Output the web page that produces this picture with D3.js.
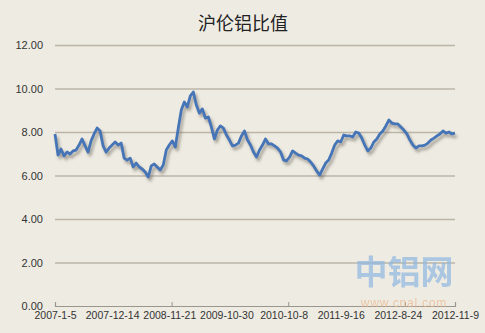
<!DOCTYPE html>
<html>
<head>
<meta charset="utf-8">
<script src="https://cdn.jsdelivr.net/npm/d3@7"></script>
<style>
  body { margin: 0; background: #eeebe2; }
  svg { display: block; }
</style>
</head>
<body>
<div id="chart"></div>
<script>
const title = '沪伦铝比值'
const dateLabels = ['2007-1-5', '2007-12-14', '2008-11-21', '2009-10-30', '2010-10-8', '2011-9-16', '2012-8-24', '2012-11-9']
const yTicks = [0, 2, 4, 6, 8, 10, 12]
// weekly SHFE / LME aluminium ratio
const ratio = [
  7.91, 6.94, 7.22, 6.90, 7.08, 6.99, 7.13, 7.17, 7.40, 7.68,
  7.36, 7.08, 7.59, 7.91, 8.18, 8.05, 7.36, 7.08, 7.26, 7.40,
  7.54, 7.40, 7.49, 6.80, 6.71, 6.80, 6.39, 6.57, 6.39, 6.30,
  6.16, 5.93, 6.44, 6.53, 6.39, 6.25, 6.48, 7.17, 7.40, 7.59,
  7.31, 8.18, 9.01, 9.38, 9.15, 9.66, 9.84, 9.24, 8.87, 9.06,
  8.64, 8.69, 8.23, 7.68, 8.09, 8.28, 8.18, 7.86, 7.63, 7.36,
  7.40, 7.49, 7.82, 8.05, 7.63, 7.40, 7.08, 6.85, 7.17, 7.40,
  7.68, 7.45, 7.45, 7.36, 7.26, 7.08, 6.71, 6.67, 6.85, 7.13,
  7.03, 6.94, 6.90, 6.80, 6.76, 6.62, 6.44, 6.21, 6.02, 6.30,
  6.57, 6.71, 7.03, 7.40, 7.59, 7.54, 7.86, 7.82, 7.82, 7.77,
  8.00, 7.95, 7.72, 7.40, 7.13, 7.26, 7.54, 7.68, 7.91, 8.05,
  8.28, 8.55, 8.41, 8.37, 8.37, 8.23, 8.09, 7.91, 7.63, 7.40,
  7.26, 7.36, 7.36, 7.40, 7.49, 7.63, 7.72, 7.82, 7.91, 8.05,
  7.95, 8.00, 7.91, 7.95
]
// category axis: 343 weeks, tick mark every 100
const nCategories = 343
const tickMarks = [0, 100, 200, 300]

const margin = {top: 45, right: 30, bottom: 27, left: 55},
  width = 485,
  height = 333,
  innerW = width - margin.left - margin.right,
  innerH = height - margin.top - margin.bottom

const svg = d3.select('#chart').append('svg')
  .attr('width', width)
  .attr('height', height)

const defs = svg.append('defs')
const shadow = defs.append('filter')
  .attr('id', 'shadow')
  .attr('x', '-5%').attr('y', '-5%')
  .attr('width', '110%').attr('height', '120%')
shadow.append('feDropShadow')
  .attr('dx', 2).attr('dy', 3)
  .attr('stdDeviation', 1.6)
  .attr('flood-color', '#6e6a60')
  .attr('flood-opacity', 0.6)

svg.append('rect')
  .attr('width', width).attr('height', height)
  .attr('fill', '#eeebe2')

svg.append('text')
  .attr('x', 243).attr('y', 30)
  .attr('text-anchor', 'middle')
  .style('font-family', '"Noto Sans CJK SC", sans-serif')
  .style('font-size', '18px')
  .style('fill', '#222')
  .text(title)

const g = svg.append('g')
  .attr('transform', `translate(${margin.left}, ${margin.top})`)

const yScale = d3.scaleLinear().domain([0, 12]).range([innerH, 0])
const xScale = d3.scaleLinear().domain([0, ratio.length - 1]).range([0, innerW])
const xCat = d3.scaleLinear().domain([0, nCategories]).range([0, innerW])
const xLabel = d3.scalePoint().domain(dateLabels).range([0, innerW])

// watermark
const wm = svg.append('g').attr('opacity', 0.7)
wm.append('text')
  .attr('x', 404).attr('y', 284)
  .attr('text-anchor', 'middle')
  .style('font-family', '"Noto Sans CJK SC", sans-serif')
  .style('font-weight', 'bold')
  .style('font-size', '33px')
  .style('fill', '#8fb7e0')
  .text('中铝网')
wm.append('text')
  .attr('x', 404).attr('y', 307)
  .attr('text-anchor', 'middle')
  .style('font-family', 'Arial, "Liberation Sans", sans-serif')
  .style('font-size', '12px')
  .style('letter-spacing', '0.8px')
  .style('fill', '#e9b68c')
  .text('www.cnal.com')

const yAxis = d3.axisLeft(yScale)
  .tickValues(yTicks)
  .tickSize(-innerW)
  .tickPadding(12)
  .tickFormat(d3.format('.2f'))
g.append('g')
  .attr('class', 'y axis')
  .call(yAxis)
  .call(s => s.select('.domain').remove())
  .call(s => s.selectAll('line')
    .attr('stroke', '#bbb5a8')
    .attr('stroke-width', 1.5)
    .attr('stroke-opacity', d => d == 0 ? 0 : 1))
  .call(s => s.selectAll('text')
    .style('font-family', 'Arial, "Liberation Sans", sans-serif')
    .style('font-size', '11px')
    .style('fill', '#333'))

// x axis line and tick marks
g.append('g')
  .attr('transform', `translate(0, ${innerH})`)
  .call(d3.axisBottom(xCat).tickValues(tickMarks).tickSize(-4).tickFormat(''))
  .call(s => s.select('.domain').attr('stroke', '#9a968d').attr('stroke-width', 1.2))
  .call(s => s.selectAll('line').attr('stroke', '#9a968d'))

g.append('g')
  .attr('class', 'x axis')
  .attr('transform', `translate(0, ${innerH})`)
  .call(d3.axisBottom(xLabel).tickSize(0).tickPadding(6))
  .call(s => s.select('.domain').remove())
  .call(s => s.selectAll('text')
    .style('font-family', 'Arial, "Liberation Sans", sans-serif')
    .style('font-size', '10.5px')
    .style('fill', '#333'))

const line = d3.line()
  .x((d, i) => xScale(i))
  .y(d => yScale(d))

g.append('path')
  .datum(ratio)
  .attr('d', line)
  .attr('fill', 'none')
  .attr('stroke', '#4574b6')
  .attr('stroke-width', 2.8)
  .attr('stroke-linejoin', 'round')
  .attr('filter', 'url(#shadow)')
</script>
</body>
</html>
